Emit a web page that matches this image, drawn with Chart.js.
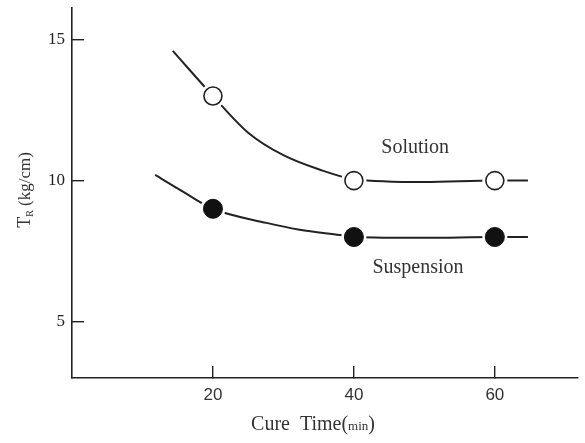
<!DOCTYPE html>
<html lang="en">
<head>
  <meta charset="UTF-8">
  <title>Cure Time vs T_R</title>
  <script src="https://cdn.jsdelivr.net/npm/chart.js"></script>
  <style>
    body { margin: 0; background: #fff; }
    canvas { display: block; }
  </style>
</head>
<body>
  <canvas id="myChart" width="585" height="443"></canvas>

  <script>
    // measured points
    const cureTime = [20, 40, 60];
    const solution = [13, 10, 10];
    const suspension = [9, 8, 8];

    // drawn (fitted) curves
    const solCurveX = [14.3, 20, 25, 30, 35, 40, 50, 60, 64.7];
    const solCurveY = [14.6, 13, 11.7, 10.9, 10.4, 10.05, 9.95, 10, 10];
    const susCurveX = [11.8, 15.8, 20, 27.6, 32.3, 38, 40, 50, 60, 64.7];
    const susCurveY = [10.2, 9.6, 9.0, 8.5, 8.26, 8.07, 8.0, 7.97, 8.0, 8.0];

    // tick labels
    const xTicks = [20, 40, 60];
    const yTicks = [5, 10, 15];

    const ink = '#222';
    const toXY = (xs, ys) => xs.map((x, i) => ({ x: x, y: ys[i] }));

    // curve labels + axis titles drawn by hand (subscript / small "min")
    const textPlugin = {
      id: 'texts',
      afterDraw(chart) {
        const c = chart.ctx;
        const xs = chart.scales.x, ys = chart.scales.y;
        c.save();
        c.fillStyle = '#333';
        c.textAlign = 'center';
        c.textBaseline = 'middle';
        c.font = '20px "Liberation Serif"';
        c.fillText('Solution', xs.getPixelForValue(48.7), ys.getPixelForValue(11.16));
        c.fillText('Suspension', xs.getPixelForValue(49.1), ys.getPixelForValue(6.91));

        // x title: Cure  Time(min)
        c.textAlign = 'left';
        c.textBaseline = 'alphabetic';
        const big = '20px "Liberation Serif"', small = '13px "Liberation Serif"';
        const parts = [['Cure  Time(', big], ['min', small], [')', big]];
        let w = 0;
        parts.forEach(p => { c.font = p[1]; w += c.measureText(p[0]).width; });
        let px = 313 - w / 2;
        parts.forEach(p => { c.font = p[1]; c.fillText(p[0], px, 430); px += c.measureText(p[0]).width; });

        // y title: T_R (kg/cm), rotated
        c.translate(30, 190);
        c.rotate(-Math.PI / 2);
        const yParts = [['T', '18px "Liberation Serif"', 0], ['R', '10px "Liberation Serif"', 3], [' (kg/cm)', '17px "Liberation Serif"', 0]];
        w = 0;
        yParts.forEach(p => { c.font = p[1]; w += c.measureText(p[0]).width; });
        px = -w / 2;
        yParts.forEach(p => { c.font = p[1]; c.fillText(p[0], px, p[2]); px += c.measureText(p[0]).width; });
        c.restore();
      }
    };

    const ctx = document.getElementById('myChart').getContext('2d');
    new Chart(ctx, {
      type: 'scatter',
      data: {
        datasets: [
          { label: 'Solution', data: toXY(cureTime, solution), showLine: false, order: 1,
            pointRadius: 9, pointBorderWidth: 1.6, pointBorderColor: ink, pointBackgroundColor: '#fff' },
          { label: 'Suspension', data: toXY(cureTime, suspension), showLine: false, order: 1,
            pointRadius: 9.5, pointBorderWidth: 1, pointBorderColor: '#111', pointBackgroundColor: '#111' },
          // white halos give the little gap where the curve meets a marker
          { label: 'gap1', data: toXY(cureTime, solution), showLine: false, order: 2,
            pointRadius: 12.5, pointBorderWidth: 0, pointBackgroundColor: '#fff' },
          { label: 'gap2', data: toXY(cureTime, suspension), showLine: false, order: 2,
            pointRadius: 12.5, pointBorderWidth: 0, pointBackgroundColor: '#fff' },
          { label: 'Solution curve', data: toXY(solCurveX, solCurveY), showLine: true, order: 3,
            borderColor: ink, borderWidth: 2, pointRadius: 0, cubicInterpolationMode: 'monotone' },
          { label: 'Suspension curve', data: toXY(susCurveX, susCurveY), showLine: true, order: 3,
            borderColor: ink, borderWidth: 2, pointRadius: 0, cubicInterpolationMode: 'monotone' }
        ]
      },
      options: {
        responsive: false,
        animation: false,
        layout: { autoPadding: false, padding: { top: 8, right: 7, left: 0, bottom: 0 } },
        plugins: {
          legend: { display: false },
          tooltip: { enabled: false }
        },
        scales: {
          x: {
            type: 'linear',
            min: 0,
            max: 71.8,
            afterFit: s => { s.height = 65; s.paddingLeft = 0; s.paddingRight = 0; },
            afterBuildTicks: s => { s.ticks = xTicks.map(v => ({ value: v })); },
            border: { color: ink, width: 1.6 },
            grid: { drawOnChartArea: false, color: ink, lineWidth: 1.4, tickLength: -12 },
            ticks: { padding: 19, color: '#333', font: { family: '"Liberation Sans"', size: 17 } }
          },
          y: {
            min: 3,
            max: 16.12,
            afterFit: s => { s.width = 72; s.paddingTop = 0; s.paddingBottom = 0; },
            afterBuildTicks: s => { s.ticks = yTicks.map(v => ({ value: v })); },
            border: { color: ink, width: 1.6 },
            grid: { drawOnChartArea: false, color: ink, lineWidth: 1.4, tickLength: -12 },
            ticks: { padding: 19, color: '#222', font: { family: '"Liberation Serif"', size: 17 } }
          }
        }
      },
      plugins: [textPlugin]
    });
  </script>
</body>
</html>
